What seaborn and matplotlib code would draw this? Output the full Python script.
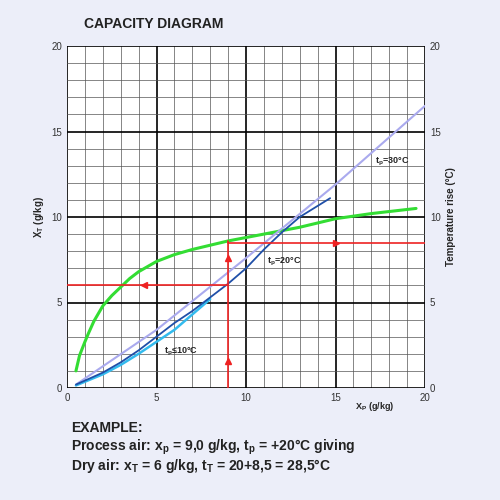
import numpy as np
import matplotlib.pyplot as plt
import seaborn as sns

sns.set_style('white')
plt.rcParams['font.family'] = ['Liberation Sans', 'DejaVu Sans']

# curve data
green_x = [0.5, 0.7, 1, 1.2, 1.5, 2, 2.5, 3, 3.5, 4, 5, 6, 7, 8, 9, 10, 12, 13, 15, 17, 19.5]
green_y = [1.0, 1.9, 2.7, 3.2, 3.9, 4.8, 5.4, 5.9, 6.4, 6.8, 7.4, 7.8, 8.1, 8.35, 8.6, 8.8, 9.2, 9.4, 9.9, 10.2, 10.5]
t30_x = [0.5, 5, 10, 15, 20]
t30_y = [0.2, 3.4, 7.6, 11.9, 16.5]
t20_x = [0.5, 2, 3, 4, 5, 6, 7, 8, 9, 10, 11, 12, 13, 14.7]
t20_y = [0.2, 0.9, 1.5, 2.2, 3.0, 3.8, 4.5, 5.3, 6.1, 7.0, 8.1, 9.1, 10.0, 11.1]
t10_x = [0.5, 2, 3, 4, 5, 6, 7, 8]
t10_y = [0.15, 0.8, 1.35, 2.0, 2.7, 3.4, 4.3, 5.2]

fig = plt.figure(figsize=(5, 5), dpi=100, facecolor='#eceef9')
ax = fig.add_axes([0.134, 0.224, 0.716, 0.684])
ax.set_facecolor('white')
ax.set_xlim(0, 20)
ax.set_ylim(0, 20)
ax.set_xticks(range(0, 21, 5))
ax.set_yticks(range(0, 21, 5))
ax.set_xticks(range(0, 21), minor=True)
ax.set_yticks(range(0, 21), minor=True)
ax.grid(which='major', color='black', lw=1.2)
ax.grid(which='minor', color='#555555', lw=0.5)
ax.tick_params(which='both', length=0, labelsize=7, colors='#333333')
for s in ax.spines.values():
    s.set_visible(False)

sns.lineplot(x=green_x, y=green_y, ax=ax, color='#33dd33', lw=2.2, sort=False)
sns.lineplot(x=t30_x, y=t30_y, ax=ax, color='#aaaaee', lw=1.5, sort=False)
sns.lineplot(x=t10_x, y=t10_y, ax=ax, color='#33bbee', lw=1.8, sort=False)
sns.lineplot(x=t20_x, y=t20_y, ax=ax, color='#1f4fa8', lw=1.3, sort=False)

red = '#ee2222'
ax.plot([9, 9], [0, 8.6], color=red, lw=1.2)
ax.plot([9, 20], [8.5, 8.5], color=red, lw=1.2)
ax.plot([0, 9], [6, 6], color=red, lw=1.2)
ax.plot(9, 1.6, marker='^', color=red, ms=5)
ax.plot(9, 7.6, marker='^', color=red, ms=5)
ax.plot(15, 8.5, marker='>', color=red, ms=5)
ax.plot(4.3, 6, marker='<', color=red, ms=5)

ax.text(17.2, 13.1, 't$_\\mathregular{p}$=30°C', fontsize=6.5, fontweight='bold')
ax.text(11.2, 7.3, 't$_\\mathregular{p}$=20°C', fontsize=6.5, fontweight='bold')
ax.text(5.4, 2.0, 't$_\\mathregular{p}$≤10°C', fontsize=6.5, fontweight='bold')
ax.text(16.1, -1.2, 'X$_\\mathregular{P}$ (g/kg)', fontsize=6.5, fontweight='bold', ha='left')

ax.set_ylabel('X$_\\mathregular{T}$ (g/kg)', fontsize=7, fontweight='bold')
ax2 = ax.twinx()
ax2.set_ylim(0, 20)
ax2.set_yticks(range(0, 21, 5))
ax2.tick_params(length=0, labelsize=7, colors='#333333')
for s in ax2.spines.values():
    s.set_visible(False)
ax2.set_ylabel('Temperature rise (°C)', fontsize=7, fontweight='bold')

fig.text(0.168, 0.945, 'CAPACITY DIAGRAM', fontsize=10, fontweight='bold', color='#222222')
fig.text(0.142, 0.135, 'EXAMPLE:', fontsize=10, fontweight='bold', color='#222222')
fig.text(0.142, 0.098, 'Process air: x$_\\mathregular{p}$ = 9,0 g/kg, t$_\\mathregular{p}$ = +20°C giving',
         fontsize=10, fontweight='bold', color='#222222')
fig.text(0.142, 0.060, 'Dry air: x$_\\mathregular{T}$ = 6 g/kg, t$_\\mathregular{T}$ = 20+8,5 = 28,5°C',
         fontsize=10, fontweight='bold', color='#222222')

fig.savefig('out.png', dpi=100, facecolor=fig.get_facecolor())
